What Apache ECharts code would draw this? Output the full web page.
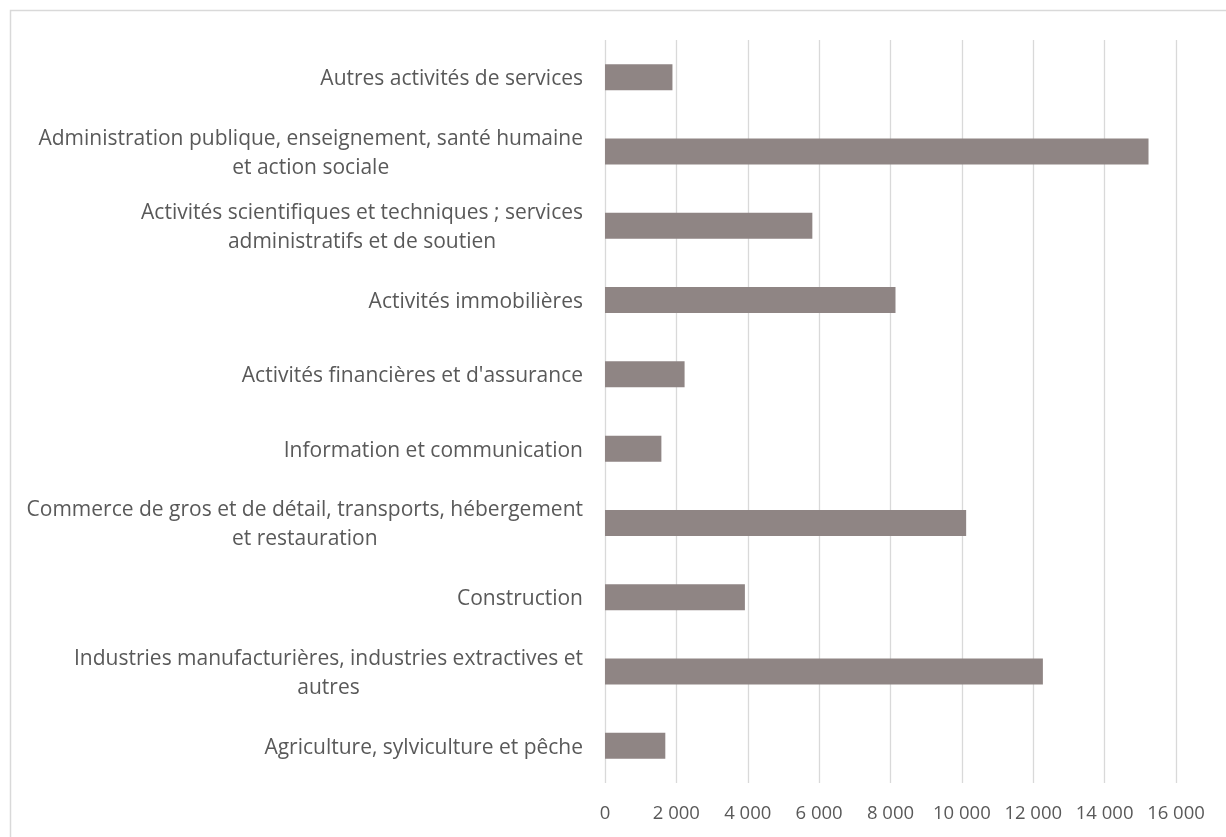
<!DOCTYPE html>
<html>
<head>
<meta charset="utf-8">
<script src="https://cdn.jsdelivr.net/npm/echarts@6/dist/echarts.min.js"></script>
<style>
  html, body { margin: 0; padding: 0; background: #fff; }
  #chart { width: 1226px; height: 837px; }
</style>
</head>
<body>
<div id="chart"></div>
<script>
// Sectors, top to bottom
const sectors = [
  "Autres activités de services",
  "Administration publique, enseignement, santé humaine\net action sociale",
  "Activités scientifiques et techniques ; services\nadministratifs et de soutien",
  "Activités immobilières",
  "Activités financières et d'assurance",
  "Information et communication",
  "Commerce de gros et de détail, transports, hébergement\net restauration",
  "Construction",
  "Industries manufacturières, industries extractives et\nautres",
  "Agriculture, sylviculture et pêche"
];

// Value per sector
const values = [1890, 15230, 5810, 8140, 2230, 1580, 10120, 3920, 12270, 1690];

// Value axis range
const axisMin = 0;
const axisMax = 16000;
const axisStep = 2000;

const textColor = '#595959';
const gridColor = '#d9d9d9';
const barColor = '#8f8584';
const fontFamily = '"Open Sans", "Noto Sans", sans-serif';

const chart = echarts.init(document.getElementById('chart'), null, { renderer: 'canvas' });

// Multi-line category labels: block right-aligned, each line centered within it
function centeredLines(text) {
  return text.split('\n').map(l => '{c|' + l + '}').join('\n');
}

chart.setOption({
  backgroundColor: '#ffffff',
  animation: false,
  graphic: [{
    type: 'rect',
    shape: { x: 10.5, y: 10.5, width: 1400, height: 1000 },
    style: { fill: 'none', stroke: gridColor, lineWidth: 1.5 },
    silent: true
  }],
  grid: { left: 605, right: 50, top: 40, bottom: 54, containLabel: false },
  xAxis: {
    type: 'value',
    min: axisMin,
    max: axisMax,
    interval: axisStep,
    axisLine: { show: false },
    axisTick: { show: false },
    splitLine: { show: true, lineStyle: { color: gridColor, width: 1.3 } },
    axisLabel: {
      color: textColor,
      fontFamily: fontFamily,
      fontSize: 18.5,
      margin: 21,
      formatter: v => String(v).replace(/\B(?=(\d{3})+(?!\d))/g, ' ')
    }
  },
  yAxis: {
    type: 'category',
    data: sectors,
    inverse: true,
    axisLine: { show: false },
    axisTick: { show: false },
    splitLine: { show: false },
    axisLabel: {
      color: textColor,
      fontFamily: fontFamily,
      fontSize: 21,
      margin: 22,
      lineHeight: 29,
      align: 'right',
      padding: [4, 0, 0, 0],
      formatter: centeredLines,
      rich: {
        c: {
          align: 'center',
          color: textColor,
          fontFamily: fontFamily,
          fontSize: 21,
          lineHeight: 29
        }
      }
    }
  },
  series: [{
    type: 'bar',
    data: values,
    barWidth: 26,
    itemStyle: { color: barColor },
    silent: true
  }]
});
</script>
</body>
</html>
